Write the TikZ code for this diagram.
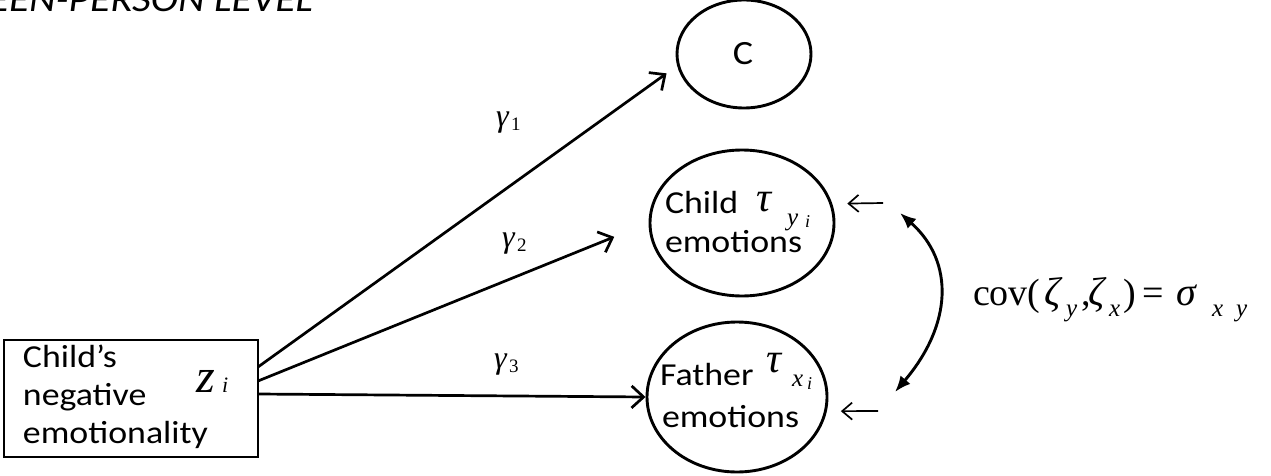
\documentclass[tikz,border=0pt]{standalone}
\usepackage{fontspec}
\setmainfont{Carlito}[FakeStretch=1.12]
\newfontfamily\tnr{Liberation Serif}
\usetikzlibrary{arrows.meta,shapes.geometric}
\begin{document}
\begin{tikzpicture}[x=1pt,y=-1pt,
  lab/.style={inner sep=0pt, outer sep=0pt, anchor=base west, font=\fontsize{32}{32}\selectfont},
  mth/.style={inner sep=0pt, outer sep=0pt, anchor=base west},
  big/.style={mth, font=\tnr\fontsize{38}{38}\selectfont},
  sml/.style={mth, font=\tnr\fontsize{25}{25}\selectfont\itshape},
  var/.style={draw, ellipse, line width=2.9pt, inner sep=0pt},
  path/.style={line width=2.7pt, -{Straight Barb[length=12pt,width=22pt]}},
  err/.style={line width=1.7pt, -{Straight Barb[length=10pt,width=17pt]}},
  covar/.style={line width=2.9pt, {Latex[length=16pt,width=13pt]}-{Latex[length=16pt,width=13pt]}}]
\useasboundingbox (0,0) rectangle (1271,476);

% title
\node[lab, font=\fontsize{37}{37}\selectfont\itshape, anchor=base east] (title) at (313,12) {EEN-PERSON LEVEL};

% predictor box
\node[draw, line width=2.9pt, minimum width=254pt, minimum height=117pt, inner sep=0pt] (box) at (131,398.5) {};
\node[lab] (b1) at (23,367) {Child’s};
\node[lab] (b2) at (23,405) {negative};
\node[lab] (b3) at (23,443) {emotionality};
\node[mth] (z) at (196,392) {\tnr\fontsize{48}{48}\selectfont\itshape z};
\node[mth] (zi) at (222,392) {\tnr\fontsize{22}{22}\selectfont\itshape i};

% outcome ellipses
\node[var, minimum width=134pt, minimum height=108pt] (C) at (744,54) {};
\node[inner sep=0pt, font=\fontsize{34}{34}\selectfont] (Ct) at (743,54) {C};

\node[var, minimum width=184pt, minimum height=146pt] (Child) at (742,223) {};
\node[lab] (ch1) at (665,213) {Child};
\node[lab] (ch2) at (665,252) {emotions};
\node[mth] (tau1) at (756,211) {\tnr\fontsize{42}{42}\selectfont\itshape τ};
\node[mth] (tau1s) at (787,225) {\tnr\fontsize{25}{25}\selectfont\itshape y};
\node[mth] (tau1i) at (805,227) {\tnr\fontsize{18}{18}\selectfont\itshape i};

\node[var, minimum width=180pt, minimum height=150pt] (Father) at (737,397) {};
\node[lab] (fa1) at (660,385) {Father};
\node[lab] (fa2) at (662,427) {emotions};
\node[mth] (tau2) at (766,372) {\tnr\fontsize{42}{42}\selectfont\itshape τ};
\node[mth] (tau2s) at (792,386) {\tnr\fontsize{25}{25}\selectfont\itshape x};
\node[mth] (tau2i) at (807,389) {\tnr\fontsize{18}{18}\selectfont\itshape i};

% paths
\coordinate (s1) at (258,367);
\coordinate (s2) at (258,381);
\coordinate (s3) at (258,394);
\draw[path, shorten >=13pt] (s1) -- (C.190);
\draw[path, shorten >=37pt] (s2) -- (Child.west);
\draw[path] (s3) -- (Father.west);

\node[mth] (g1) at (496,127) {\tnr\fontsize{32}{32}\selectfont\itshape γ};
\node[mth] (g1s) at (511,131) {\tnr\fontsize{19}{19}\selectfont 1};
\node[mth] (g2) at (502,247) {\tnr\fontsize{32}{32}\selectfont\itshape γ};
\node[mth] (g2s) at (517,251) {\tnr\fontsize{19}{19}\selectfont 2};
\node[mth] (g3) at (494,368) {\tnr\fontsize{32}{32}\selectfont\itshape γ};
\node[mth] (g3s) at (509,372) {\tnr\fontsize{19}{19}\selectfont 3};

% residual arrows
\coordinate (e1) at (883,203);
\coordinate (e2) at (878,411);
\draw[err, shorten >=15pt] (e1) -- (Child.12.7);
\draw[err, shorten >=14pt] (e2) -- (Father.-9);

% covariance
\coordinate (c1) at (900,213);
\coordinate (c2) at (895,392);
\draw[covar] (c1) .. controls (955,262) and (952,325) .. (c2);
\node[big] (cov) at (973,305) {cov(};
\node[big, font=\tnr\fontsize{40}{40}\selectfont\itshape] (zeta1) at (1044,305) {ζ};
\node[sml] (zy) at (1066,316) {y};
\node[big] (comma) at (1081,305) {,};
\node[big, font=\tnr\fontsize{40}{40}\selectfont\itshape] (zeta2) at (1088,305) {ζ};
\node[sml] (zx) at (1109,316) {x};
\node[big] (rpar) at (1123,305) {)};
\node[big] (eq) at (1142,305) {=};
\node[big, font=\tnr\fontsize{40}{40}\selectfont\itshape] (sig) at (1176,305) {σ};
\node[sml] (sx) at (1212,316) {x};
\node[sml] (sy) at (1236,316) {y};
\end{tikzpicture}
\end{document}
